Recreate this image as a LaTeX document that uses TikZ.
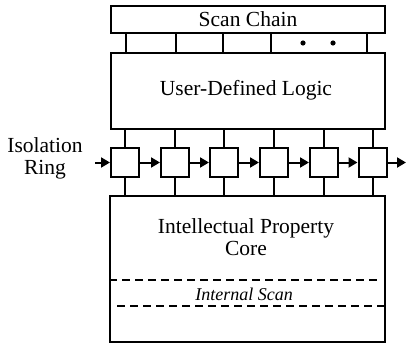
\documentclass[tikz,border=0pt]{standalone}
\usepackage{fontspec}
\setmainfont{Liberation Serif}
\usetikzlibrary{arrows.meta}
\begin{document}
\begin{tikzpicture}[x=1pt,y=-1pt,
  blk/.style={draw,line width=2pt,rectangle,inner sep=0pt},
  cell/.style={draw,line width=2pt,rectangle,inner sep=0pt,minimum width=28pt,minimum height=29pt},
  wire/.style={line width=2pt},
  arr/.style={line width=2pt,-{Triangle[length=9pt,width=10pt]}},
  scanline/.style={line width=1.8pt,dash pattern=on 8pt off 5pt},
  lbl/.style={font=\fontsize{21.5}{22}\selectfont,align=center,inner sep=0pt}]
\useasboundingbox (0,0) rectangle (407,345);

% blocks
\node[blk,minimum width=274pt,minimum height=27pt] (scan) at (248,19.5) {};
\node[lbl] at (scan.center) {Scan Chain};
\node[blk,minimum width=274pt,minimum height=76pt] (udl) at (248,91) {};
\node[lbl] at (246,90) {User-Defined Logic};
\node[blk,minimum width=275pt,minimum height=146pt] (core) at (247.5,269) {};
\node[lbl] at (246,237) {Intellectual Property\\Core};

% scan chain taps into the logic
\foreach \x in {126,176,223,271,367}
  \draw[wire] (\x,0 |- scan.south) -- (\x,0 |- udl.north);
\fill (303,43) circle (2.6pt) (333,43) circle (2.6pt);

% isolation ring cells
\foreach \i/\x in {1/125,2/175,3/224,4/274,5/324,6/372.5} {
  \node[cell] (c\i) at (\x,162.5) {};
  \draw[wire] (c\i.north) -- (c\i.north |- udl.south);
  \draw[wire] (c\i.south) -- (c\i.south |- core.north);
}
\coordinate (rin) at (95,162.5);
\coordinate (rout) at (406,162.5);
\draw[arr] (rin) -- (c1.west);
\foreach \i/\j in {1/2,2/3,3/4,4/5,5/6}
  \draw[arr] (c\i.east) -- (c\j.west);
\draw[arr] (c6.east) -- (rout);
\node[lbl] at (45,158) {Isolation\\Ring};

% internal scan band
\draw[scanline] (core.west |- 0,280) -- (380,280);
\draw[scanline] (117,306) -- (core.east |- 0,306);
\node[lbl,font=\fontsize{18}{20}\selectfont\itshape] at (244,294) {Internal Scan};
\end{tikzpicture}
\end{document}
